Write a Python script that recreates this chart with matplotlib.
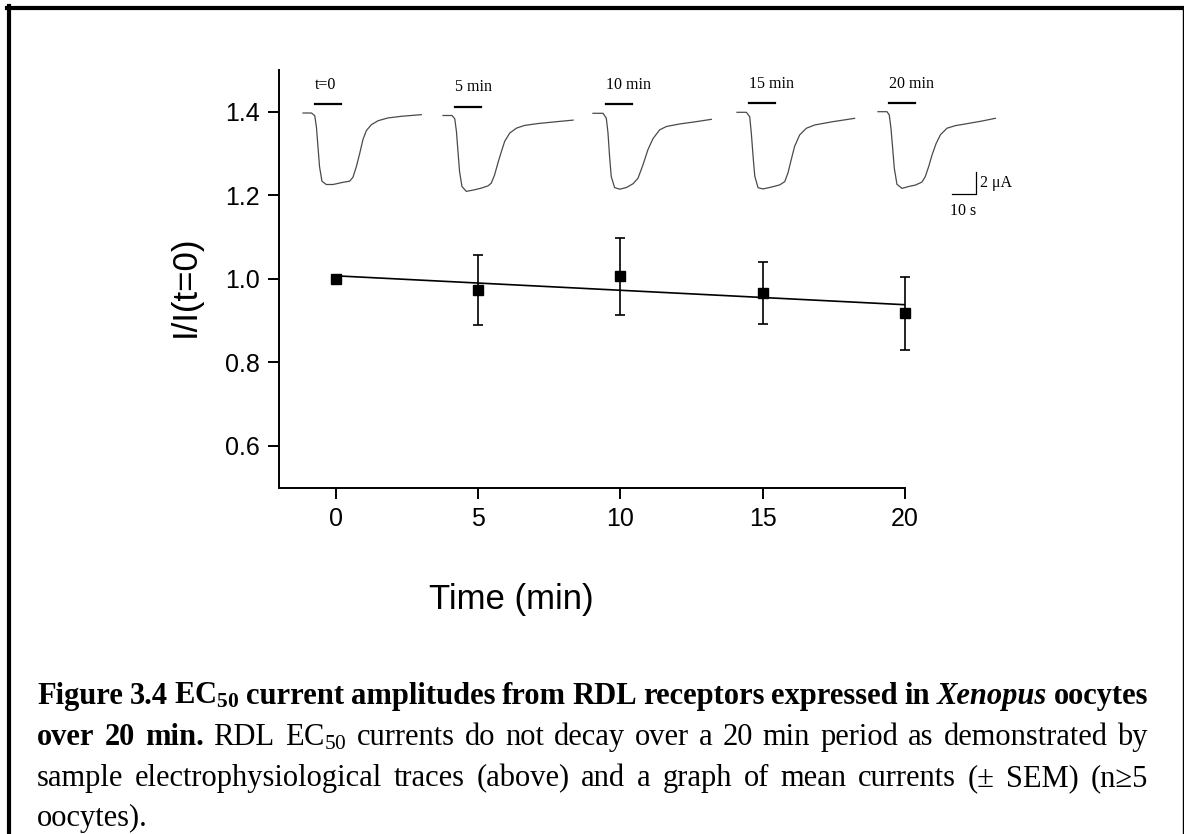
import numpy as np
import matplotlib
matplotlib.use("Agg")
import matplotlib.pyplot as plt
from matplotlib.lines import Line2D
from matplotlib.transforms import IdentityTransform

# corrente média normalizada (I/I(t=0)) e SEM
tempo = [0, 5, 10, 15, 20]
media = [1.000, 0.973, 1.006, 0.966, 0.917]
sem = [0.0, 0.084, 0.092, 0.074, 0.087]
xticks = [0, 5, 10, 15, 20]
yticks = [0.6, 0.8, 1.0, 1.2, 1.4]

# registros de exemplo: tempo (s) e corrente (uA)
rotulos = ["t=0", "5 min", "10 min", "15 min", "20 min"]
t_tr1 = [0, 3.5, 4.9, 5.6, 6.25, 6.9, 7.9, 9.7, 12.5, 14.6, 16.7, 19.4, 20.8, 22.2, 23.6, 25.0, 26.4, 28.5, 31.3, 35.4, 41.0, 49.3]
i_tr1 = [0, 0, -0.24, -1.3, -3.1, -4.9, -6.2, -6.5, -6.5, -6.4, -6.3, -6.2, -5.85, -4.9, -3.7, -2.4, -1.6, -1.06, -0.7, -0.45, -0.3, -0.15]
t_tr2 = [0, 3.75, 4.9, 5.6, 6.25, 6.9, 7.9, 9.7, 13.2, 16.0, 18.75, 20.1, 21.5, 22.9, 24.3, 25.7, 27.8, 30.6, 34.0, 39.6, 46.5, 54.2]
i_tr2 = [0, 0, -0.3, -1.45, -3.3, -5.1, -6.45, -6.9, -6.75, -6.6, -6.4, -6.15, -5.4, -4.3, -3.3, -2.35, -1.6, -1.15, -0.9, -0.73, -0.58, -0.42]
t_tr3 = [0, 4.2, 5.55, 6.25, 6.9, 7.6, 9.0, 11.1, 13.9, 16.7, 18.75, 20.8, 22.9, 25.0, 27.8, 30.6, 36.1, 43.0, 49.3]
i_tr3 = [0, 0, -0.45, -1.8, -3.9, -5.75, -6.75, -6.9, -6.75, -6.4, -5.9, -4.7, -3.3, -2.3, -1.5, -1.2, -0.97, -0.76, -0.55]
t_tr4 = [0, 3.9, 5.3, 5.97, 6.7, 7.4, 8.75, 10.8, 14.3, 17.8, 19.9, 21.25, 22.6, 24.0, 26.1, 28.9, 32.4, 40.0, 49.0]
i_tr4 = [0, 0, -0.4, -1.9, -4.0, -5.8, -6.85, -6.97, -6.8, -6.6, -6.3, -5.5, -4.3, -3.1, -2.06, -1.45, -1.15, -0.85, -0.55]
t_tr5 = [0, 3.75, 4.7, 5.4, 6.1, 6.8, 7.9, 10.0, 12.8, 15.6, 18.3, 19.7, 21.1, 22.5, 24.2, 26.0, 28.75, 32.2, 37.8, 43.3, 48.9]
i_tr5 = [0, 0, -0.3, -1.5, -3.3, -5.15, -6.6, -6.97, -6.8, -6.67, -6.4, -5.9, -5.0, -3.95, -2.9, -2.1, -1.5, -1.27, -1.06, -0.85, -0.6]
inicio_gaba = [5.1, 4.9, 5.4, 5.0, 4.7]
duracao_gaba = 10.8

tracos = [(t_tr1, i_tr1), (t_tr2, i_tr2), (t_tr3, i_tr3), (t_tr4, i_tr4), (t_tr5, i_tr5)]

W, H = 1184, 834
plt.rcParams['font.family'] = ['Liberation Sans', 'DejaVu Sans']
plt.rcParams['mathtext.fontset'] = 'custom'
plt.rcParams['mathtext.rm'] = 'Liberation Serif'
plt.rcParams['mathtext.bf'] = 'Liberation Serif:bold'
plt.rcParams['mathtext.it'] = 'Liberation Serif:italic'

fig = plt.figure(figsize=(W / 100, H / 100), dpi=100)

# --- gráfico principal ---
esq, dir_, topo, base = 279, 905, 70, 487.5
ax = fig.add_axes([esq / W, (H - base) / H, (dir_ - esq) / W, (base - topo) / H])
for s in ['top', 'right']:
    ax.spines[s].set_visible(False)
for s in ['left', 'bottom']:
    ax.spines[s].set_linewidth(1.4)
ax.set_xlim(-2, 20)
ax.set_ylim(0.5, 1.5)
ax.set_xticks(xticks)
ax.set_yticks(yticks)
ax.set_yticklabels([f"{v:.1f}" for v in yticks])
ax.tick_params(labelsize=18, length=8, width=1.4, pad=6)

a, b = np.polyfit(tempo, media, 1)
xf = np.array([tempo[0], tempo[-1]])
ax.plot(xf, a * xf + b, color='black', lw=1.2)
ax.errorbar(tempo[1:], media[1:], yerr=sem[1:], fmt='none', ecolor='black',
            elinewidth=1.2, capsize=3.5, capthick=1.2, clip_on=False)
ax.plot(tempo, media, 's', color='black', markersize=6.5, clip_on=False, zorder=5)

fig.text(185 / W, 1 - 286 / H, "I/I(t=0)", rotation=90, ha='center', va='center', fontsize=25)
fig.text(511 / W, 1 - 600 / H, "Time (min)", ha='center', va='center', fontsize=25)

# --- registros de exemplo ---
px_s, px_ua = 2.4, 11.0
inicios_px = [303, 443, 593, 737, 878]
linhas_base = [113, 115.5, 113.3, 112.3, 111.7]
t0, t1, y0, y1 = -2, 56, -8, 1.5
axs_tr = []
for k, (tt, ii) in enumerate(tracos):
    l = inicios_px[k] + t0 * px_s
    top_px = linhas_base[k] - y1 * px_ua
    h = (y1 - y0) * px_ua
    axi = fig.add_axes([l / W, (H - top_px - h) / H, (t1 - t0) * px_s / W, h / H])
    axi.set_xlim(t0, t1)
    axi.set_ylim(y0, y1)
    axi.axis('off')
    axi.plot(tt, ii, color='#4a4a4a', lw=0.9, clip_on=False)
    axi.plot([inicio_gaba[k], inicio_gaba[k] + duracao_gaba], [0.8, 0.8], color='black', lw=1.6,
             clip_on=False)
    axi.text(inicio_gaba[k], 2.2, rotulos[k], ha='left', va='baseline', fontsize=11.5,
             family='Liberation Serif')
    axs_tr.append(axi)

# barra de escala: 10 s, 2 uA
axe = axs_tr[-1]
axe.plot([30.8, 40.8, 40.8], [-7.48, -7.48, -5.48], color='black', lw=0.9, clip_on=False)
axe.text(42.6, -6.5, "2 \u03bcA", ha='left', va='center', fontsize=11.5, family='Liberation Serif')
axe.text(35.6, -8.3, "10 s", ha='center', va='top', fontsize=11.5, family='Liberation Serif')

# --- moldura ---
idt = IdentityTransform()
fig.add_artist(Line2D([7, W], [H - 8, H - 8], color='black', lw=3.0, transform=idt))
fig.add_artist(Line2D([9, 9], [0, H - 6], color='black', lw=3.0, transform=idt))
fig.add_artist(Line2D([W - 1, W - 1], [0, H - 8], color='black', lw=1.0, transform=idt))

# --- legenda (texto justificado) ---
B, N = 'bold', 'normal'
linhas = [
    [("Figure", B, N), ("3.4", B, N), (r"EC$_{\mathbf{50}}$", B, N), ("current", B, N),
     ("amplitudes", B, N), ("from", B, N), ("RDL", B, N), ("receptors", B, N),
     ("expressed", B, N), ("in", B, N), ("Xenopus", B, 'italic'), ("oocytes", B, N)],
    [("over", B, N), ("20", B, N), ("min.", B, N)] +
    [(w, N, N) for w in ["RDL", r"EC$_{\mathrm{50}}$", "currents", "do", "not", "decay", "over",
                         "a", "20", "min", "period", "as", "demonstrated", "by"]],
    [(w, N, N) for w in ["sample", "electrophysiological", "traces", "(above)", "and", "a", "graph",
                         "of", "mean", "currents", "(\u00b1", "SEM)", "(n\u22655"]],
    [("oocytes).", N, N)],
]
bases = [704, 745, 786, 826]
x_esq, x_dir = 37, 1148
renderer = fig.canvas.get_renderer()
for k, palavras in enumerate(linhas):
    objs = []
    for txt, peso, estilo in palavras:
        t = fig.text(0, H - bases[k], txt, fontsize=22, family='Liberation Serif', weight=peso,
                     style=estilo, ha='left', va='baseline', transform=idt)
        objs.append(t)
    larguras = [t.get_window_extent(renderer).width for t in objs]
    if k < len(linhas) - 1 and len(objs) > 1:
        gap = (x_dir - x_esq - sum(larguras)) / (len(objs) - 1)
    else:
        gap = 6
    x = x_esq
    for t, w in zip(objs, larguras):
        t.set_x(x)
        x += w + gap

fig.savefig("out.png", dpi=100)
